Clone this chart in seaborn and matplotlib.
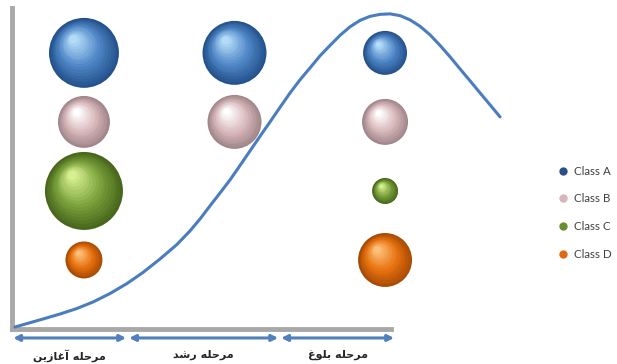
"""Life-cycle curve with class bubbles per stage (growth stages chart)."""

import matplotlib
matplotlib.use("Agg")
import matplotlib.pyplot as plt
import matplotlib.colors as mcolors
from matplotlib.lines import Line2D
from matplotlib.transforms import ScaledTranslation
import numpy as np
import pandas as pd
import seaborn as sns


# stage columns (0, 1, 2) and class rows (A top ... D bottom)
CLASSES = ["Class A", "Class B", "Class C", "Class D"]
ROW_OF_CLASS = [3, 2, 1, 0]

BUBBLE_STAGE = [0, 0, 0, 0, 1, 1, 2, 2, 2, 2]
BUBBLE_CLASS = ["Class A", "Class B", "Class C", "Class D",
                "Class A", "Class B",
                "Class A", "Class B", "Class C", "Class D"]
# relative magnitude (bubble area), largest = 100
BUBBLE_VALUE = [80.5, 44.4, 100.0, 22.5,
                67.3, 47.9,
                31.8, 34.8, 11.1, 47.9]

# life-cycle curve (same units as the bubble grid)
CURVE_X = [-0.458, -0.272, -0.159, -0.047, 0.060, 0.173, 0.286, 0.392,
           0.505, 0.618, 0.704, 0.771, 0.837, 0.904, 0.970, 1.037,
           1.103, 1.169, 1.236, 1.302, 1.369, 1.435, 1.502, 1.568,
           1.635, 1.701, 1.767, 1.834, 1.900, 1.967, 2.033, 2.100,
           2.166, 2.233, 2.299, 2.365, 2.432, 2.498, 2.565, 2.631,
           2.698, 2.764]
CURVE_Y = [-0.971, -0.855, -0.783, -0.703, -0.609, -0.486, -0.341, -0.181,
           0.014, 0.225, 0.420, 0.594, 0.783, 0.971, 1.159, 1.370,
           1.580, 1.790, 2.000, 2.210, 2.420, 2.609, 2.783, 2.957,
           3.109, 3.254, 3.377, 3.471, 3.529, 3.558, 3.565, 3.539,
           3.478, 3.384, 3.261, 3.109, 2.942, 2.768, 2.594, 2.420,
           2.246, 2.072]

STAGE_LABELS = ["مرحله آغازین", "مرحله رشد", "مرحله بلوغ"]
STAGE_BOUNDS = [-0.48, 0.29, 1.30, 2.07]

# dark rim, body, highlight
SPHERE_COLORS = {
    "Class A": ("#24528c", "#4f86c6", "#b3dcf8"),
    "Class B": ("#a0868a", "#d9b9bc", "#ffffff"),
    "Class C": ("#48661c", "#78a03a", "#d6ef90"),
    "Class D": ("#a84a04", "#e8720f", "#fcc07a"),
}
LEGEND_COLORS = {"Class A": "#2a4f86", "Class B": "#d8b4bb",
                 "Class C": "#6a8f32", "Class D": "#e06a10"}

ARROW_COLOR = "#4f81bd"
CURVE_COLOR = "#4a7cc0"
AXIS_GREY = "#a8a8a8"

MAX_AREA = 3150  # pt^2 for value 100


# Persian shaping (presentation forms) for the letters used in the labels
FORMS = {
    "م": ("\ufee1", "\ufee2", "\ufee3", "\ufee4"),
    "ح": ("\ufea1", "\ufea2", "\ufea3", "\ufea4"),
    "ل": ("\ufedd", "\ufede", "\ufedf", "\ufee0"),
    "ه": ("\ufee9", "\ufeea", "\ufeeb", "\ufeec"),
    "غ": ("\ufecd", "\ufece", "\ufecf", "\ufed0"),
    "ی": ("\ufbfc", "\ufbfd", "\ufbfe", "\ufbff"),
    "ن": ("\ufee5", "\ufee6", "\ufee7", "\ufee8"),
    "ش": ("\ufeb5", "\ufeb6", "\ufeb7", "\ufeb8"),
    "ب": ("\ufe8f", "\ufe90", "\ufe91", "\ufe92"),
    "ر": ("\ufead", "\ufeae"),
    "آ": ("\ufe81", "\ufe82"),
    "ا": ("\ufe8d", "\ufe8e"),
    "ز": ("\ufeaf", "\ufeb0"),
    "د": ("\ufea9", "\ufeaa"),
    "و": ("\ufeed", "\ufeee"),
}


def shape_persian(text: str) -> str:
    out = []
    for i, ch in enumerate(text):
        if ch not in FORMS:
            out.append(ch)
            continue
        prev = text[i - 1] if i > 0 else ""
        nxt = text[i + 1] if i + 1 < len(text) else ""
        joins_prev = prev in FORMS and len(FORMS[prev]) == 4
        joins_next = len(FORMS[ch]) == 4 and nxt in FORMS
        forms = FORMS[ch]
        if joins_prev and joins_next:
            out.append(forms[3])
        elif joins_next:
            out.append(forms[2])
        elif joins_prev:
            out.append(forms[1])
        else:
            out.append(forms[0])
    return "".join(out)[::-1]


def blend(c1: str, c2: str, t: float):
    a = np.array(mcolors.to_rgb(c1))
    b = np.array(mcolors.to_rgb(c2))
    return tuple(a + (b - a) * t)


def shade_spheres(ax, fig, data: pd.DataFrame, n_layers: int = 16) -> None:
    for _, row in data.iterrows():
        dark, body, light = SPHERE_COLORS[row["Class"]]
        area = row["Value"] / 100 * MAX_AREA
        radius = np.sqrt(area) / 2
        for k in range(1, n_layers):
            t = k / (n_layers - 1)
            frac = 1 - 0.88 * t
            if t < 0.45:
                color = blend(dark, body, t / 0.45)
            else:
                color = blend(body, light, (t - 0.45) / 0.55)
            dx = -0.30 * radius * t
            dy = 0.40 * radius * t
            offset = ScaledTranslation(dx / 72, dy / 72, fig.dpi_scale_trans)
            ax.scatter([row["Stage"]], [row["Row"]], s=area * frac ** 2,
                       color=color, linewidths=0, zorder=3 + k * 0.01,
                       transform=ax.transData + offset)


def main() -> None:
    sns.set_theme(style="white")
    plt.rcParams["font.family"] = ["Lato", "DejaVu Sans"]

    data = pd.DataFrame({
        "Stage": BUBBLE_STAGE,
        "Class": BUBBLE_CLASS,
        "Value": BUBBLE_VALUE,
    })
    data["Row"] = data["Class"].map(dict(zip(CLASSES, ROW_OF_CLASS)))
    curve = pd.DataFrame({"x": CURVE_X, "y": CURVE_Y})

    fig = plt.figure(figsize=(6.17, 3.64), dpi=100)
    ax = fig.add_axes([12 / 617, 35 / 364, 498 / 617, 321 / 364])
    ax.set_xlim(-0.478, 2.83)
    ax.set_ylim(-1.0, 3.65)

    sns.scatterplot(
        data=data, x="Stage", y="Row", hue="Class", size="Value",
        hue_order=CLASSES,
        palette={c: SPHERE_COLORS[c][0] for c in CLASSES},
        sizes=(0, MAX_AREA), size_norm=(0, 100),
        linewidth=0, legend=False, zorder=3, ax=ax,
    )
    shade_spheres(ax, fig, data)

    sns.lineplot(data=curve, x="x", y="y", sort=False, color=CURVE_COLOR,
                 linewidth=2.2, zorder=6, solid_joinstyle="round",
                 solid_capstyle="round", ax=ax)

    # axes frame: thick grey left and bottom lines, bottom stops at last stage
    for side in ("top", "right"):
        ax.spines[side].set_visible(False)
    for side in ("left", "bottom"):
        ax.spines[side].set_color(AXIS_GREY)
        ax.spines[side].set_linewidth(3.5)
    ax.spines["bottom"].set_bounds(-0.478, STAGE_BOUNDS[-1] - 0.03)
    ax.set_xticks([])
    ax.set_yticks([])
    ax.set_xlabel("")
    ax.set_ylabel("")

    # stage arrows and Persian labels under the axis
    for i, label in enumerate(STAGE_LABELS):
        x0 = STAGE_BOUNDS[i] + 0.01
        x1 = STAGE_BOUNDS[i + 1] - 0.01
        ax.annotate("", xy=(x0, -1.13), xytext=(x1, -1.13),
                    arrowprops=dict(arrowstyle="<|-|>", color=ARROW_COLOR,
                                    lw=2.2, mutation_scale=9,
                                    shrinkA=0, shrinkB=0),
                    annotation_clip=False)
        ax.text((x0 + x1) / 2, -1.38, shape_persian(label), ha="center",
                va="center", fontsize=8, fontweight="bold",
                family=["DejaVu Sans"], clip_on=False)

    handles = [
        Line2D([], [], marker="o", linestyle="", markersize=6,
               markerfacecolor=LEGEND_COLORS[c], markeredgecolor="none")
        for c in CLASSES
    ]
    fig.legend(handles, CLASSES, loc="upper left",
               bbox_to_anchor=(553 / 617, 1 - 160 / 364), frameon=False,
               fontsize=8.3, labelspacing=1.45, handlelength=0.8,
               handletextpad=0.5, borderpad=0, labelcolor="#404040")

    fig.savefig("out.png", dpi=100)
    plt.close(fig)


if __name__ == "__main__":
    main()
